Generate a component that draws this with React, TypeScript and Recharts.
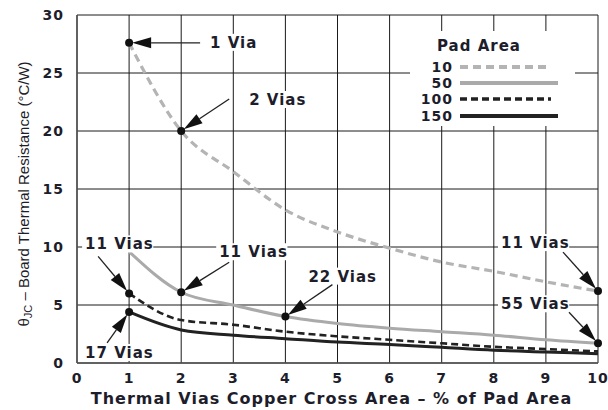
import React from 'react';
import { LineChart, Line, XAxis, YAxis, CartesianGrid, ReferenceDot } from 'recharts';

// ---- data ----
const xValues = [1, 2, 3, 4, 5, 6, 7, 8, 9, 10];
const pad10 = [27.6, 20.0, 16.5, 13.2, 11.3, 9.9, 8.7, 7.9, 7.0, 6.2];
const pad50 = [9.6, 6.1, 5.0, 4.0, 3.4, 3.0, 2.7, 2.4, 2.0, 1.7];
const pad100 = [6.0, 3.7, 3.3, 2.7, 2.3, 2.0, 1.7, 1.4, 1.2, 1.0];
const pad150 = [4.4, 2.85, 2.4, 2.1, 1.8, 1.6, 1.35, 1.1, 0.95, 0.8];
const xTicks = [0, 1, 2, 3, 4, 5, 6, 7, 8, 9, 10];
const yTicks = [0, 5, 10, 15, 20, 25, 30];

const legendTitle = 'Pad Area';
const xLabel = 'Thermal Vias Copper Cross Area \u2013 % of Pad Area';

const data = xValues.map((x, i) => ({
  x,
  pad10: pad10[i],
  pad50: pad50[i],
  pad100: pad100[i],
  pad150: pad150[i],
}));

const series = [
  { key: 'pad10', name: '10', color: '#b4b4b4', dash: '8 5', width: 3.2 },
  { key: 'pad50', name: '50', color: '#aaaaaa', dash: undefined, width: 3 },
  { key: 'pad100', name: '100', color: '#222222', dash: '7 4', width: 2.6 },
  { key: 'pad150', name: '150', color: '#222222', dash: undefined, width: 3 },
];

// annotations: label, which series/x, text offset and arrow tail offset (px)
const annotations = [
  { label: '1 Via', series: 'pad10', x: 1, tx: 81, ty: 5, ax: 71, ay: 0 },
  { label: '2 Vias', series: 'pad10', x: 2, tx: 68, ty: -26, ax: 48, ay: -32 },
  { label: '11 Vias', series: 'pad100', x: 1, tx: -44, ty: -44, ax: -31, ay: -37 },
  { label: '17 Vias', series: 'pad150', x: 1, tx: -44, ty: 46, ax: -22, ay: 31 },
  { label: '11 Vias', series: 'pad50', x: 2, tx: 38, ty: -35, ax: 48, ay: -30 },
  { label: '22 Vias', series: 'pad50', x: 4, tx: 23, ty: -35, ax: 47, ay: -32 },
  { label: '11 Vias', series: 'pad10', x: 10, tx: -97, ty: -43, ax: -35, ay: -39 },
  { label: '55 Vias', series: 'pad50', x: 10, tx: -97, ty: -34, ax: -29, ay: -31 },
];

const FONT = "'DejaVu Sans', Verdana, sans-serif";
const TEXT = '#1d1d2b';

const valueAt = (key: string, x: number) => {
  const row: any = data.find((d) => d.x === x);
  return row ? row[key] : 0;
};

const renderAnnotation = (cx: number, cy: number, a: any) => {
  const tailX = cx + a.ax;
  const tailY = cy + a.ay;
  const dx = cx - tailX;
  const dy = cy - tailY;
  const len = Math.sqrt(dx * dx + dy * dy) || 1;
  const ux = dx / len;
  const uy = dy / len;
  const tipX = cx - ux * 3;
  const tipY = cy - uy * 3;
  const headLen = 19;
  const headW = 5.5;
  const bx = tipX - ux * headLen;
  const by = tipY - uy * headLen;
  const px = -uy;
  const py = ux;
  const textW = a.label.length * 9.6;
  const tX = cx + a.tx;
  const tY = cy + a.ty;
  return (
    <g>
      <rect x={tX - 3} y={tY - 14} width={textW + 4} height={17} fill="#fff" />
      <text x={tX} y={tY} fontFamily={FONT} fontWeight="bold" fontSize={15} letterSpacing={1} fill={TEXT}>
        {a.label}
      </text>
      <line x1={tailX} y1={tailY} x2={bx} y2={by} stroke="#222" strokeWidth={1.3} />
      <polygon
        points={`${tipX},${tipY} ${bx + px * headW},${by + py * headW} ${bx - px * headW},${by - py * headW}`}
        fill="#111"
      />
      <circle cx={cx} cy={cy} r={4} fill="#111" />
    </g>
  );
};

const XTick = (props: any) => {
  const { x, y, payload } = props;
  return (
    <text x={x} y={y + 20} textAnchor="middle" fontFamily={FONT} fontWeight="bold" fontSize={14} letterSpacing={1} fill={TEXT}>
      {payload.value}
    </text>
  );
};

const YTick = (props: any) => {
  const { x, y, payload } = props;
  return (
    <text x={x - 13} y={y + 5} textAnchor="end" fontFamily={FONT} fontWeight="bold" fontSize={14} letterSpacing={1} fill={TEXT}>
      {payload.value}
    </text>
  );
};

const Legend = () => {
  const rowY = [67, 83, 99, 116];
  return (
    <svg width={608} height={410} style={{ position: 'absolute', left: 0, top: 0, pointerEvents: 'none' }}>
      <rect x={410} y={31} width={165} height={95} fill="#fff" />
      <text x={437} y={51} fontFamily={FONT} fontWeight="bold" fontSize={15} letterSpacing={1} fill={TEXT}>
        {legendTitle}
      </text>
      {series.map((s, i) => (
        <g key={s.key}>
          <text x={453} y={rowY[i] + 5} textAnchor="end" fontFamily={FONT} fontWeight="bold" fontSize={14} letterSpacing={1} fill={TEXT}>
            {s.name}
          </text>
          <line
            x1={460}
            y1={rowY[i]}
            x2={s.dash ? 551 : 558}
            y2={rowY[i]}
            stroke={s.color}
            strokeWidth={s.width + 0.8}
            strokeDasharray={s.dash}
          />
        </g>
      ))}
    </svg>
  );
};

export default function App() {
  return (
    <div style={{ position: 'absolute', left: 0, top: 0, width: 608, height: 410, background: '#fff' }}>
      <LineChart width={608} height={410} data={data} margin={{ top: 15, right: 10, bottom: 0, left: 0 }}>
        <CartesianGrid stroke="#1a1a1a" strokeWidth={1} />
        <XAxis
          dataKey="x"
          type="number"
          domain={[0, 10]}
          ticks={xTicks}
          interval={0}
          height={47}
          tickLine={false}
          tickSize={0}
          tickMargin={0}
          axisLine={{ stroke: '#555', strokeWidth: 1.5 }}
          tick={<XTick />}
          label={{
            content: (p: any) => {
              const vb = p.viewBox || { x: 77, y: 363, width: 521 };
              return (
                <text
                  x={vb.x + vb.width / 2 - 6}
                  y={vb.y + 41}
                  textAnchor="middle"
                  fontFamily={FONT}
                  fontWeight="bold"
                  fontSize={16}
                  letterSpacing={1}
                  fill={TEXT}
                >
                  {xLabel}
                </text>
              );
            },
          }}
        />
        <YAxis
          type="number"
          domain={[0, 30]}
          ticks={yTicks}
          interval={0}
          width={77}
          tickLine={false}
          tickSize={0}
          tickMargin={0}
          axisLine={{ stroke: '#555', strokeWidth: 1.5 }}
          tick={<YTick />}
          label={{
            content: () => (
              <text
                transform="translate(29,194) rotate(-90)"
                textAnchor="middle"
                fontFamily="'Liberation Sans', Arial, sans-serif"
                fontSize={15}
                fill={TEXT}
              >
                <tspan>θ</tspan>
                <tspan fontSize={11} dy={3}>JC</tspan>
                <tspan dy={-3}> – Board Thermal Resistance (°C/W)</tspan>
              </text>
            ),
          }}
        />
        {series.map((s) => (
          <Line
            key={s.key}
            dataKey={s.key}
            name={s.name}
            type="monotone"
            stroke={s.color}
            strokeWidth={s.width}
            strokeDasharray={s.dash}
            dot={false}
            activeDot={false}
            isAnimationActive={false}
          />
        ))}
        {annotations.map((a, i) => (
          <ReferenceDot
            key={i}
            x={a.x}
            y={valueAt(a.series, a.x)}
            r={4}
            shape={(p: any) => renderAnnotation(p.cx, p.cy, a)}
          />
        ))}
      </LineChart>
      <Legend />
    </div>
  );
}
